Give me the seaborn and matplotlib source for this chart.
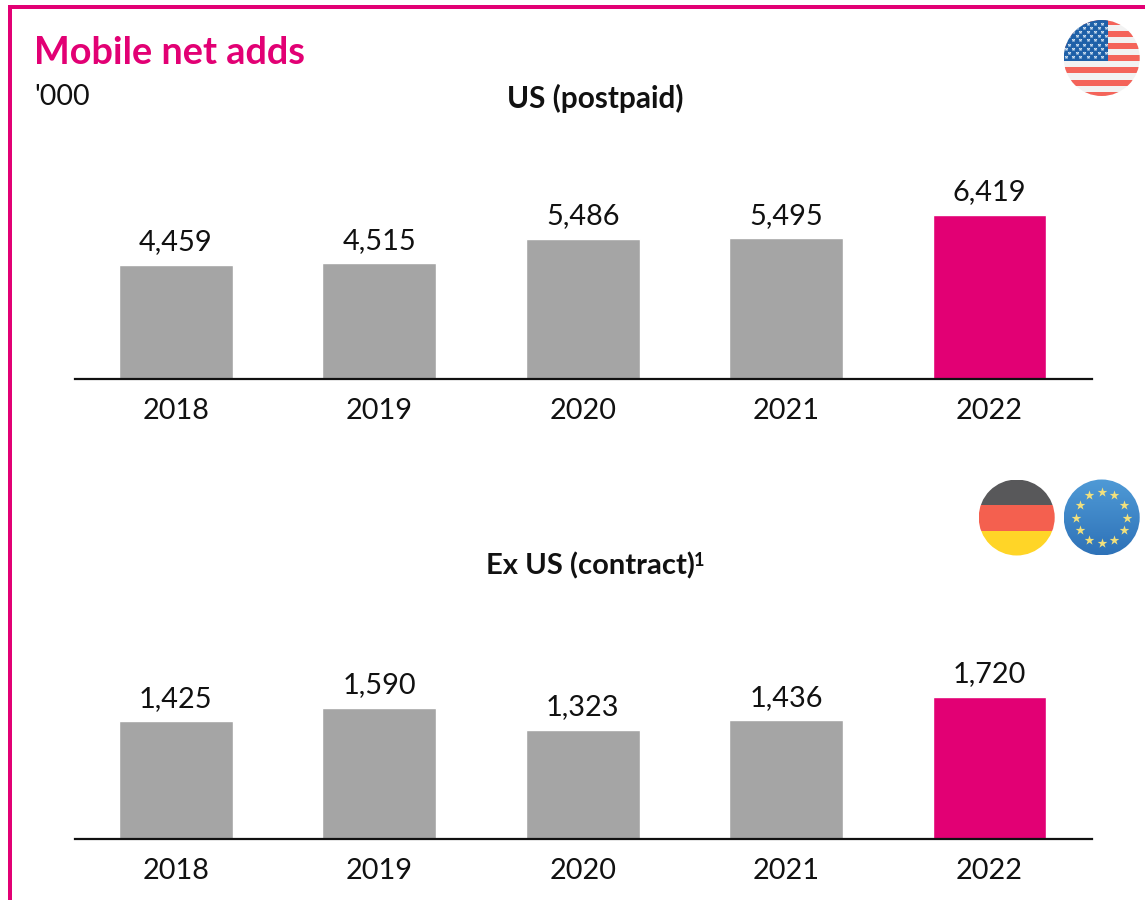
import matplotlib
matplotlib.use("Agg")
import matplotlib.pyplot as plt
from matplotlib.patches import Circle, Rectangle
import numpy as np
import pandas as pd
import seaborn as sns

years = ["2018", "2019", "2020", "2021", "2022"]
us_values = [4459, 4515, 5486, 5495, 6419]
ex_us_values = [1425, 1590, 1323, 1436, 1720]
bar_colors = ["#a5a5a5", "#a5a5a5", "#a5a5a5", "#a5a5a5", "#e20074"]

MAGENTA = "#e20074"
W, H = 1145, 900

sns.set_theme(style="white")
plt.rcParams["font.family"] = ["Lato", "DejaVu Sans"]


def px_axes(fig, x0, y0, x1, y1):
    return fig.add_axes([x0 / W, 1 - y1 / H, (x1 - x0) / W, (y1 - y0) / H])


def draw_panel(ax, values, ymax):
    df = pd.DataFrame({"year": years, "value": values})
    sns.barplot(data=df, x="year", y="value", hue="year", palette=bar_colors,
                legend=False, width=0.56, saturation=1, ax=ax)
    for c in ax.containers:
        ax.bar_label(c, labels=[f"{int(v):,}" for v in c.datavalues], padding=7,
                     fontsize=20.8, color="#111111")
    ax.set_xlim(-0.496, 4.504)
    ax.set_ylim(0, ymax)
    ax.set_xlabel("")
    ax.set_ylabel("")
    ax.set_yticks([])
    ax.tick_params(axis="x", length=0, pad=14, labelsize=20.8, labelcolor="#111111")
    sns.despine(ax=ax, left=True)
    ax.spines["bottom"].set_color("#111111")
    ax.spines["bottom"].set_linewidth(1.6)
    ax.patch.set_alpha(0)


def circle_clip(ov, x, y, r):
    return Circle((x, y), r, transform=ov.transData)


def draw_us_flag(ov, x, y, r):
    clip = circle_clip(ov, x, y, r)
    arts = [Rectangle((x - r, y - r), 2 * r, 2 * r, color="#f2f2f2", lw=0)]
    for k in range(7):
        top = y - 39.5 + k * 12.2
        arts.append(Rectangle((x - r, top), 2 * r, 6.0, color="#f4645a", lw=0))
    arts.append(Rectangle((x - r, y - r), 44.5, 41, color="#1e60a8", lw=0))
    for a in arts:
        ov.add_patch(a)
        a.set_clip_path(clip)
    sx, sy = [], []
    for row in range(9):
        for col in range(6):
            px = x - 36 + (col + (row % 2) * 0.5) * 7.3
            if px < x + 5:
                sx.append(px)
                sy.append(y - 34.5 + row * 4.2)
    s = ov.scatter(sx, sy, s=9, marker="*", color="#cfe0f0", lw=0, zorder=3)
    s.set_clip_path(clip)


def draw_de_flag(ov, x, y, r):
    clip = circle_clip(ov, x, y, r)
    bands = [("#58585a", y - r, 25), ("#f4604f", y - r + 25, 26.5), ("#ffd527", y - r + 51.5, 25)]
    for col, top, h in bands:
        a = Rectangle((x - r, top), 2 * r, h, color=col, lw=0)
        ov.add_patch(a)
        a.set_clip_path(clip)


def draw_eu_flag(ov, x, y, r):
    clip = circle_clip(ov, x, y, r)
    grad = np.linspace(0, 1, 64).reshape(-1, 1)
    cmap = matplotlib.colors.LinearSegmentedColormap.from_list("eu", ["#4f9ad6", "#2e72b8"])
    im = ov.imshow(grad, cmap=cmap, extent=(x - r, x + r, y + r, y - r), aspect="auto", zorder=2)
    im.set_clip_path(clip)
    ang = np.deg2rad(np.arange(0, 360, 30))
    ov.scatter(x + 25.5 * np.sin(ang), y - 25.5 * np.cos(ang), s=54, marker="*",
               color="#f2e07c", lw=0, zorder=3)


fig = plt.figure(figsize=(W / 100, H / 100), dpi=100, facecolor="white")

ax_us = px_axes(fig, 75, 130, 1092, 379)
draw_panel(ax_us, us_values, 9730)
ax_ex = px_axes(fig, 75, 600, 1092, 839)
draw_panel(ax_ex, ex_us_values, 2895)

# overlay in image pixels for frame, headings and flags
ov = fig.add_axes([0, 0, 1, 1], zorder=5)
ov.set_xlim(0, W)
ov.set_ylim(H, 0)
ov.axis("off")
ov.patch.set_alpha(0)

ov.add_patch(Rectangle((8, 5), W, 4, color=MAGENTA, lw=0))
ov.add_patch(Rectangle((8, 5), 3.5, H, color=MAGENTA, lw=0))

ov.text(34, 53, "Mobile net adds", color=MAGENTA, fontsize=27.3, fontweight="bold", va="center", ha="left")
ov.text(34, 97, "'000", color="#111111", fontsize=20.5, va="center", ha="left")
ov.text(595, 98, "US (postpaid)", color="#111111", fontsize=21.4, fontweight="bold", va="center", ha="center")
ov.text(590, 566, "Ex US (contract)", color="#111111", fontsize=21, fontweight="bold", va="center", ha="center")
ov.text(694, 560, "1", color="#111111", fontsize=13, fontweight="bold", va="center", ha="left")

draw_us_flag(ov, 1101.7, 58, 38)
draw_de_flag(ov, 1016.7, 517.5, 38)
draw_eu_flag(ov, 1101.7, 517.5, 38)
ov.set_xlim(0, W)
ov.set_ylim(H, 0)

fig.savefig("out.png", dpi=100)
